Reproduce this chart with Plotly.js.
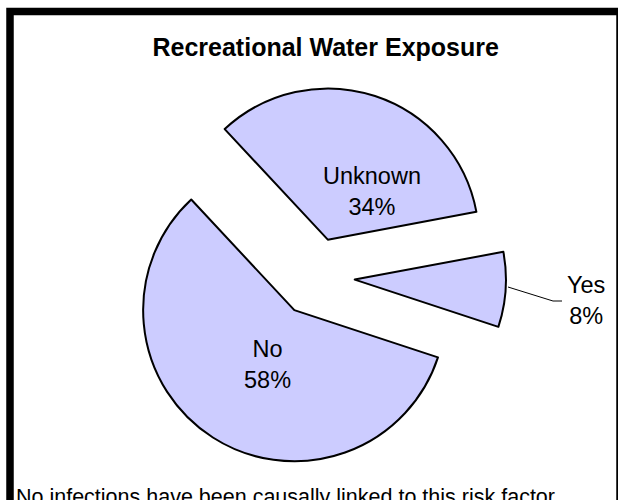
<!DOCTYPE html>
<html>
<head>
<meta charset="utf-8">
<script src="https://cdn.plot.ly/plotly-3.0.1.min.js"></script>
<style>
  html, body { margin: 0; padding: 0; background: #ffffff; }
  #chart { width: 618px; height: 500px; }
</style>
</head>
<body>
<div id="chart"></div>
<script>
// Data
const categories = ["Unknown", "Yes", "No"];
const percentages = [34, 8, 58];
const chartTitle = "Recreational Water Exposure";
const footNote = "No infections have been causally linked to this risk factor.";

// Label placement (paper fractions), styling only
const labelPos = {
  "Unknown": { x: 372 / 618, y: 0.617 },
  "Yes":     { x: 586 / 618, y: 0.399 },
  "No":      { x: 267 / 618, y: 0.272 }
};

const FONT = "Liberation Sans, Arial, sans-serif";

const trace = {
  type: "pie",
  labels: categories,
  values: percentages,
  sort: false,
  direction: "clockwise",
  rotation: -43,
  pull: [0.26, 0.26, 0.26],
  textinfo: "none",
  marker: {
    colors: ["#CCCCFF", "#CCCCFF", "#CCCCFF"],
    line: { color: "#000000", width: 2 }
  },
  domain: { x: [0.2023, 0.8188], y: [0.065, 0.827] },
  hoverinfo: "none",
  showlegend: false
};

const labelAnnotations = categories.map((c, i) => ({
  text: c + "<br>" + percentages[i] + "%",
  xref: "paper", yref: "paper",
  x: labelPos[c].x, y: labelPos[c].y,
  xanchor: "center", yanchor: "middle",
  showarrow: false,
  font: { family: FONT, size: 23.5, color: "#000000" }
}));

const layout = {
  width: 618,
  height: 500,
  margin: { l: 0, r: 0, t: 0, b: 0 },
  paper_bgcolor: "#ffffff",
  plot_bgcolor: "#ffffff",
  showlegend: false,
  title: {
    text: "<b>" + chartTitle + "</b>",
    font: { family: FONT, size: 25, color: "#000000" },
    x: 0.527, xanchor: "center",
    y: 0.906, yanchor: "middle"
  },
  shapes: [
    {
      type: "rect", xref: "paper", yref: "paper",
      x0: 10 / 618, x1: 620 / 618, y0: -0.1, y1: 1 - 11.5 / 500,
      line: { color: "#000000", width: 7.5 },
      fillcolor: "rgba(0,0,0,0)"
    },
    {
      type: "path", xref: "paper", yref: "paper",
      path: "M " + (508 / 618) + "," + (1 - 287 / 500) +
            " L " + (553 / 618) + "," + (1 - 301 / 500) +
            " L " + (562 / 618) + "," + (1 - 301 / 500),
      line: { color: "#000000", width: 1 }
    }
  ],
  annotations: labelAnnotations.concat([{
    text: footNote,
    xref: "paper", yref: "paper",
    x: 14 / 618, xanchor: "left",
    y: 0.006, yanchor: "middle",
    showarrow: false,
    font: { family: FONT, size: 21.5, color: "#000000" }
  }])
};

Plotly.newPlot("chart", [trace], layout, { staticPlot: true, displayModeBar: false });
</script>
</body>
</html>
